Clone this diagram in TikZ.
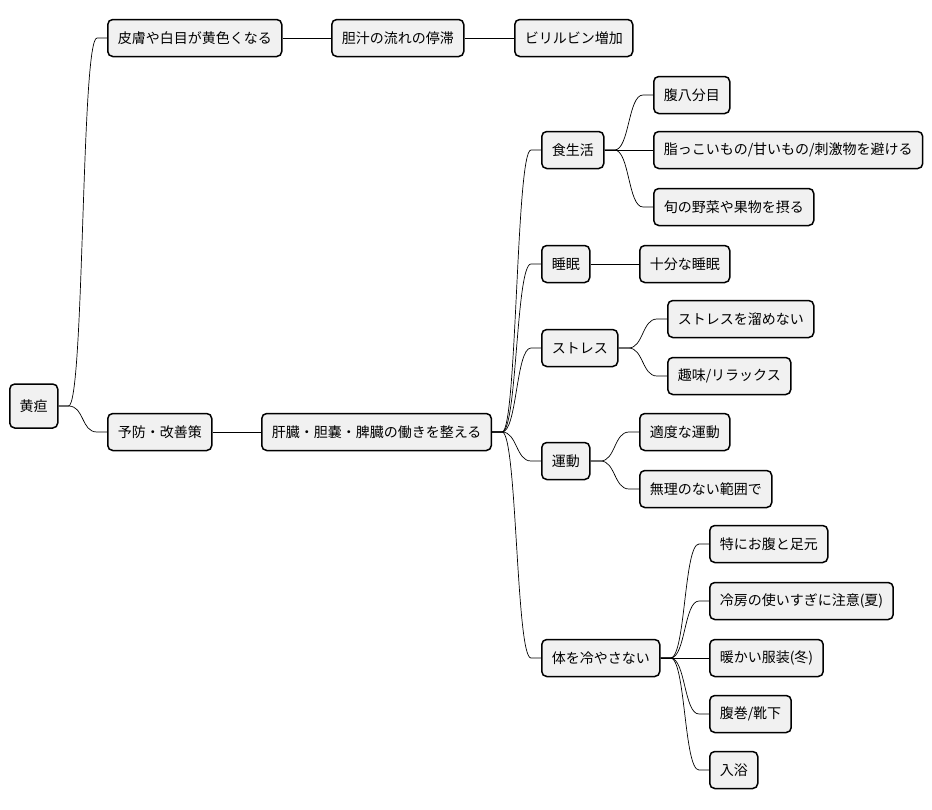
\documentclass[tikz,border=0pt]{standalone}
\usepackage{fontspec}
\setmainfont{Noto Sans CJK JP}
\definecolor{boxgray}{RGB}{241, 241, 241}
\usetikzlibrary{positioning}
\tikzset{
	topic/.style={rectangle, rounded corners=5pt, draw=black, fill=boxgray, line width=1.5pt, anchor=west, inner xsep=10pt, minimum height=37pt, font=\fontsize{14}{16}\selectfont},
	roottopic/.style={topic, minimum height=44pt},
	branch/.style={draw=black, line width=0.7pt},
}

\begin{document}
\begin{tikzpicture}[x=1pt, y=-1pt]
		\useasboundingbox (0,0) rectangle (932,809);
		% root and first level
		\node[roottopic] (jaundice) at (9,406) {黄疸};
		\node[topic] (skin) at (107,38) {皮膚や白目が黄色くなる};
		\node[topic] (bile) at (331,38) {胆汁の流れの停滞};
		\node[topic] (bilirubin) at (514,38) {ビリルビン増加};
		\node[topic] (care) at (107,432) {予防・改善策};
		\node[topic] (organs) at (261,432) {肝臓・胆嚢・脾臓の働きを整える};
		% care topics
		\node[topic] (diet) at (541,150) {食生活};
		\node[topic] (eighty) at (653,95) {腹八分目};
		\node[topic] (fatty) at (653,150) {脂っこいもの/甘いもの/刺激物を避ける};
		\node[topic] (season) at (653,207) {旬の野菜や果物を摂る};
		\node[topic] (sleep) at (541,264) {睡眠};
		\node[topic] (enough) at (639,264) {十分な睡眠};
		\node[topic] (stress) at (541,348) {ストレス};
		\node[topic] (nostress) at (667,319) {ストレスを溜めない};
		\node[topic] (hobby) at (667,376) {趣味/リラックス};
		\node[topic] (exercise) at (541,461) {運動};
		\node[topic] (moderate) at (639,432) {適度な運動};
		\node[topic] (nolimit) at (639,489) {無理のない範囲で};
		\node[topic] (warm) at (541,658) {体を冷やさない};
		\node[topic] (feet) at (709,544) {特にお腹と足元};
		\node[topic] (aircon) at (709,601) {冷房の使いすぎに注意(夏)};
		\node[topic] (clothes) at (709,658) {暖かい服装(冬)};
		\node[topic] (socks) at (709,714) {腹巻/靴下};
		\node[topic] (bath) at (709,770) {入浴};
		% branches
		\draw[branch] (jaundice.east) -- ++(10,0) .. controls +(16,0) and +(-16,0) .. ([xshift=-10pt]skin.west) -- (skin.west);
		\draw[branch] (jaundice.east) -- ++(10,0) .. controls +(16,0) and +(-16,0) .. ([xshift=-10pt]care.west) -- (care.west);
		\draw[branch] (skin) -- (bile);
		\draw[branch] (bile) -- (bilirubin);
		\draw[branch] (care) -- (organs);
		\draw[branch] (organs.east) -- ++(10,0) .. controls +(15,0) and +(-15,0) .. ([xshift=-10pt]diet.west) -- (diet.west);
		\draw[branch] (organs.east) -- ++(10,0) .. controls +(15,0) and +(-15,0) .. ([xshift=-10pt]sleep.west) -- (sleep.west);
		\draw[branch] (organs.east) -- ++(10,0) .. controls +(15,0) and +(-15,0) .. ([xshift=-10pt]stress.west) -- (stress.west);
		\draw[branch] (organs.east) -- ++(10,0) .. controls +(15,0) and +(-15,0) .. ([xshift=-10pt]exercise.west) -- (exercise.west);
		\draw[branch] (organs.east) -- ++(10,0) .. controls +(15,0) and +(-15,0) .. ([xshift=-10pt]warm.west) -- (warm.west);
		\draw[branch] (diet.east) -- ++(10,0) .. controls +(15,0) and +(-15,0) .. ([xshift=-10pt]eighty.west) -- (eighty.west);
		\draw[branch] (diet) -- (fatty);
		\draw[branch] (diet.east) -- ++(10,0) .. controls +(15,0) and +(-15,0) .. ([xshift=-10pt]season.west) -- (season.west);
		\draw[branch] (sleep) -- (enough);
		\draw[branch] (stress.east) -- ++(10,0) .. controls +(15,0) and +(-15,0) .. ([xshift=-10pt]nostress.west) -- (nostress.west);
		\draw[branch] (stress.east) -- ++(10,0) .. controls +(15,0) and +(-15,0) .. ([xshift=-10pt]hobby.west) -- (hobby.west);
		\draw[branch] (exercise.east) -- ++(10,0) .. controls +(15,0) and +(-15,0) .. ([xshift=-10pt]moderate.west) -- (moderate.west);
		\draw[branch] (exercise.east) -- ++(10,0) .. controls +(15,0) and +(-15,0) .. ([xshift=-10pt]nolimit.west) -- (nolimit.west);
		\draw[branch] (warm.east) -- ++(10,0) .. controls +(15,0) and +(-15,0) .. ([xshift=-10pt]feet.west) -- (feet.west);
		\draw[branch] (warm.east) -- ++(10,0) .. controls +(15,0) and +(-15,0) .. ([xshift=-10pt]aircon.west) -- (aircon.west);
		\draw[branch] (warm) -- (clothes);
		\draw[branch] (warm.east) -- ++(10,0) .. controls +(15,0) and +(-15,0) .. ([xshift=-10pt]socks.west) -- (socks.west);
		\draw[branch] (warm.east) -- ++(10,0) .. controls +(15,0) and +(-15,0) .. ([xshift=-10pt]bath.west) -- (bath.west);
	\end{tikzpicture}
\end{document}
